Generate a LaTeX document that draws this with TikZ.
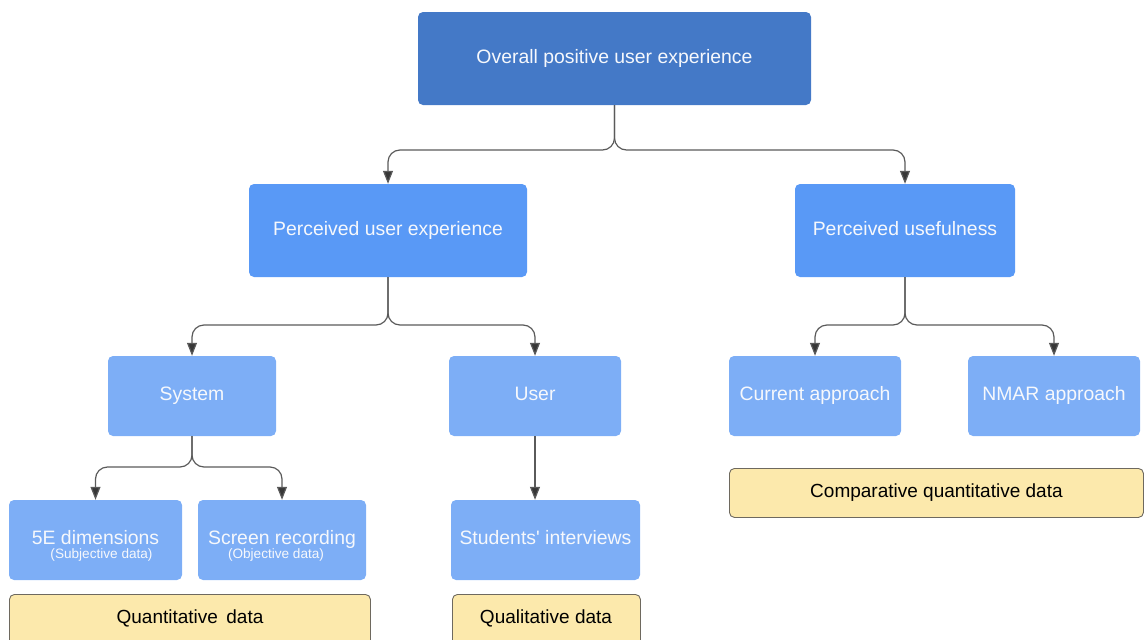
\documentclass[tikz,border=0pt]{standalone}
\usepackage{fontspec}
\setmainfont{Liberation Sans}
\usetikzlibrary{arrows.meta}
\definecolor{topblue}{RGB}{68,121,199}
\definecolor{midblue}{RGB}{89,153,246}
\definecolor{lowblue}{RGB}{125,174,246}
\definecolor{databg}{RGB}{252,233,172}
\definecolor{dataline}{RGB}{110,105,95}
\definecolor{linkgray}{RGB}{90,90,90}
\definecolor{tipgray}{RGB}{55,55,55}
\definecolor{labelwhite}{RGB}{246,248,252}
\newcommand\subnotefont{\fontsize{13.6}{16}\selectfont}
\tikzset{
  box/.style={rectangle, rounded corners=5pt, inner sep=0pt, text=labelwhite,
    font=\fontsize{19.4}{23}\selectfont, align=center},
  oneline/.style={text height=13.5pt, text depth=4.5pt},
  topbox/.style={box, oneline, fill=topblue},
  midbox/.style={box, oneline, fill=midblue},
  lowbox/.style={box, oneline, fill=lowblue},
  twolinebox/.style={box, fill=lowblue},
  databox/.style={rectangle, rounded corners=5pt, fill=databg, draw=dataline,
    line width=0.9pt, text=black, font=\fontsize{19}{23}\selectfont, oneline},
  datalabel/.style={text=black, font=\fontsize{19}{23}\selectfont, oneline},
  link/.style={draw=linkgray, line width=1.2pt, rounded corners=12pt,
    -{Triangle[length=13pt,width=10pt,fill=tipgray]}}
}
\begin{document}
\begin{tikzpicture}[x=1pt,y=-1pt]
\useasboundingbox (0,0) rectangle (1144,640);
\clip (0,0) rectangle (1144,640);

% top level
\node[topbox, minimum width=393pt, minimum height=93pt] (top) at (614.5,58.5)
  {Overall positive user experience};

% second level
\node[midbox, minimum width=278pt, minimum height=93pt] (pux) at (388,230.5)
  {Perceived user experience};
\node[midbox, minimum width=220pt, minimum height=93pt] (pu) at (905,230.5)
  {Perceived usefulness};

% third level
\node[lowbox, minimum width=168pt, minimum height=80pt] (sys) at (192,396) {System};
\node[lowbox, minimum width=172pt, minimum height=80pt] (usr) at (535,396) {User};
\node[lowbox, minimum width=172pt, minimum height=80pt] (cur) at (815,396) {Current approach};
\node[lowbox, minimum width=172pt, minimum height=80pt] (nmar) at (1054,396) {NMAR approach};

% fourth level
\node[twolinebox, minimum width=173pt, minimum height=80pt] (fivee) at (95.5,540)
  {\rule{0pt}{26pt}5E dimensions\\[-9pt]\hspace*{12pt}{\subnotefont(Subjective data)}};
\node[twolinebox, minimum width=168pt, minimum height=80pt] (scr) at (282,540)
  {\rule{0pt}{26pt}Screen recording\\[-9pt]\hspace*{-12pt}{\subnotefont(Objective data)}};
\node[lowbox, minimum width=189pt, minimum height=80pt] (stu) at (545.5,540)
  {Students\textquotesingle{} interviews};

% data type bands
\node[databox, minimum width=361pt, minimum height=60pt, anchor=north west] (quant) at (9,594) {};
\node[datalabel] (quantlbl) at (190,619) {Quantitative\, data};
\node[databox, minimum width=188pt, minimum height=60pt, anchor=north west] (qual) at (452,594) {};
\node[datalabel] (quallbl) at (546,619) {Qualitative data};
\node[databox, minimum width=414pt, minimum height=49pt, anchor=north west] (comp) at (729,468)
  {Comparative quantitative data};

% junction points of the branching connectors
\coordinate (j1) at (614.5,150);
\coordinate (j2) at (388,325);
\coordinate (j3) at (905,325);
\coordinate (j4) at (192,467);

\draw[link] (top.south) -- (j1) -| (pux.north);
\draw[link] (top.south) -- (j1) -| (pu.north);
\draw[link] (pux.south) -- (j2) -| (sys.north);
\draw[link] (pux.south) -- (j2) -| (usr.north);
\draw[link] (pu.south) -- (j3) -| (cur.north);
\draw[link] (pu.south) -- (j3) -| (nmar.north);
\draw[link] (sys.south) -- (j4) -| (fivee.north);
\draw[link] (sys.south) -- (j4) -| (scr.north);
\draw[link] (usr.south) -- (usr.south |- stu.north);
\end{tikzpicture}
\end{document}
